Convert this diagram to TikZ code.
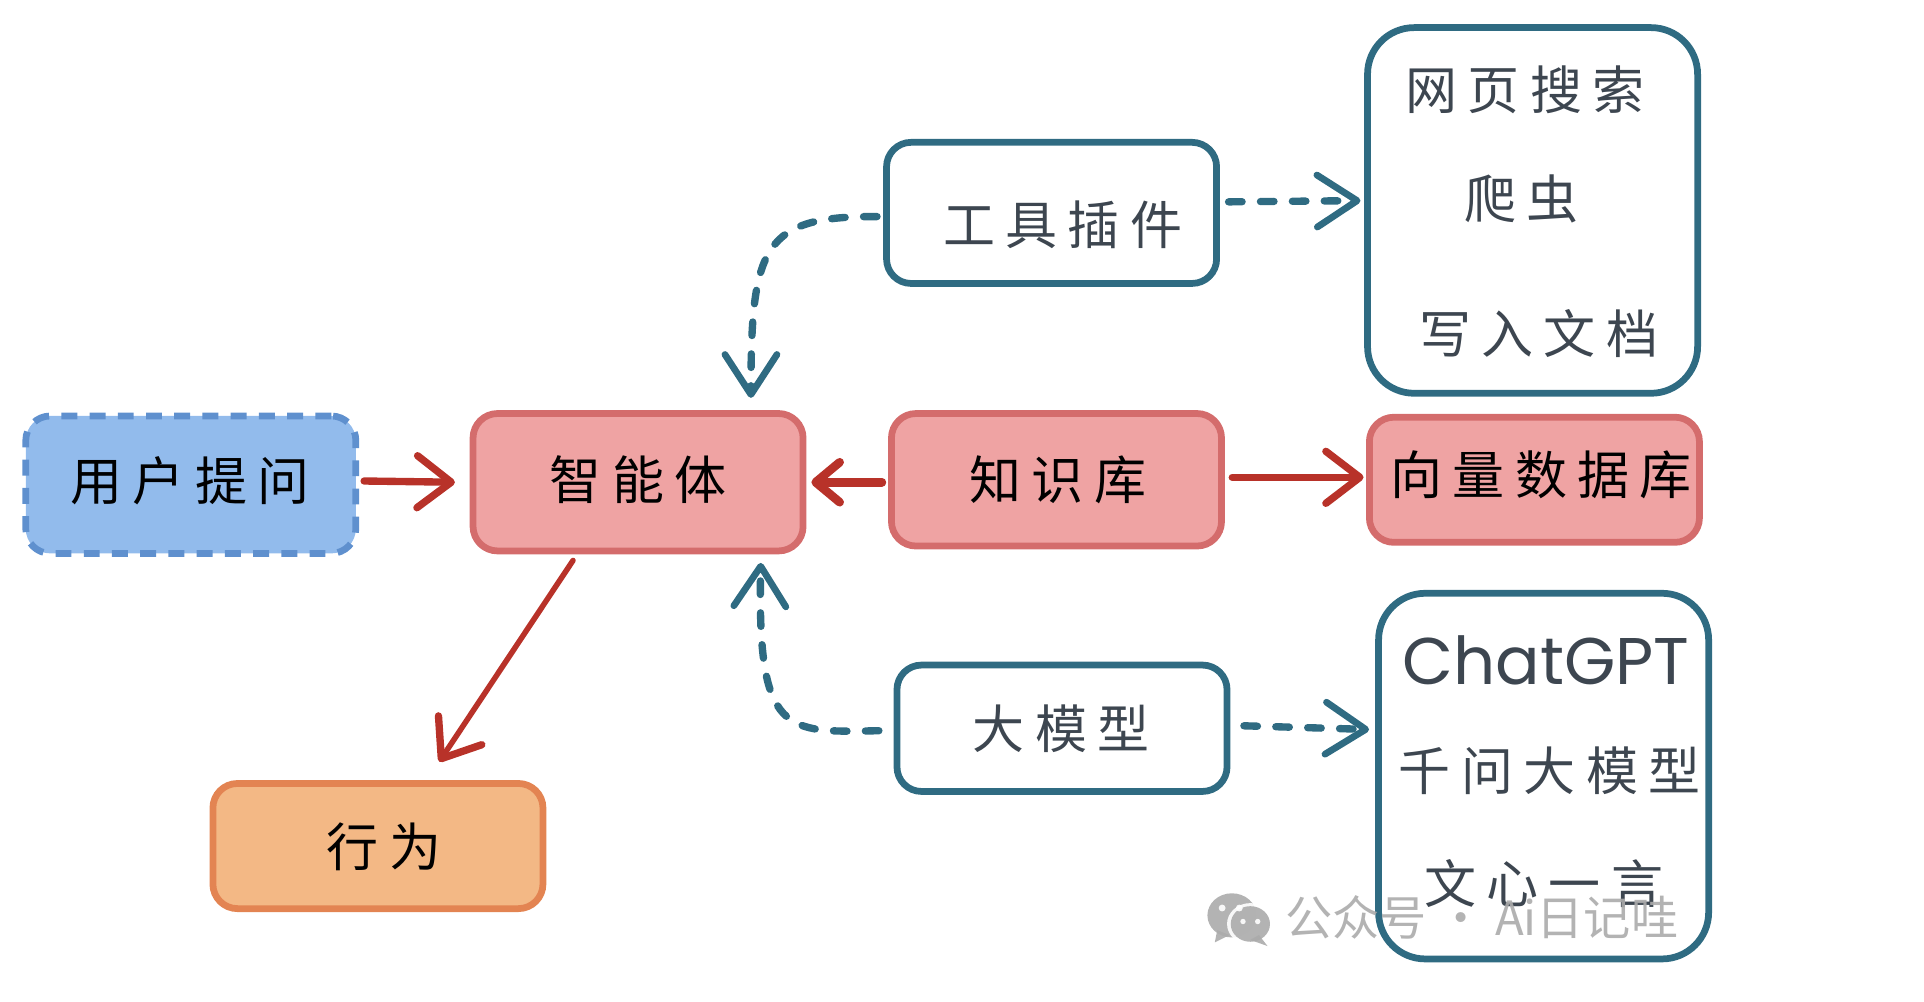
\documentclass[tikz,border=0pt]{standalone}
\usepackage{fontspec}
\usetikzlibrary{arrows.meta}
\newfontfamily\cjk[LetterSpace=20]{Noto Sans CJK SC}
\newfontfamily\cjkplain{Noto Sans CJK SC}
\newfontfamily\latinhand{Poppins}
\def\u{0.6135pt}
\definecolor{teal}{HTML}{2F6B82}
\definecolor{arrowred}{HTML}{B83229}
\definecolor{pinkfill}{HTML}{EFA3A3}
\definecolor{pinkline}{HTML}{D46C6C}
\definecolor{bluefill}{HTML}{92BBEC}
\definecolor{blueline}{HTML}{5F90CE}
\definecolor{orangefill}{HTML}{F3B885}
\definecolor{orangeline}{HTML}{E38452}
\definecolor{inkgray}{HTML}{3D4650}
\definecolor{markgray}{HTML}{ABABAB}
\tikzset{
  box/.style={draw,rectangle,rounded corners=20*\u,line width=5.5*\u,inner sep=0pt,minimum width=269*\u,font=\cjk\fontsize{26pt}{30pt}\selectfont},
  redbox/.style={box,fill=pinkfill,draw=pinkline},
  bluebox/.style={box,fill=bluefill,draw=blueline,dash pattern=on 13*\u off 10*\u},
  orangebox/.style={box,fill=orangefill,draw=orangeline},
  tealbox/.style={box,draw=teal,text=inkgray},
  listbox/.style={tealbox,rounded corners=38*\u,minimum height=298*\u},
  boxtext/.style={inner sep=0pt,font=\cjk\fontsize{26pt}{30pt}\selectfont},
  itemtext/.style={boxtext,text=inkgray},
  solidflow/.style={draw=arrowred,line width=6*\u,line cap=round,-{Straight Barb[round,length=17pt,width=26pt,line width=6*\u]}},
  shortflow/.style={draw=arrowred,line width=7*\u,line cap=round,-{Straight Barb[round,length=12pt,width=20pt,line width=7*\u]}},
  dashflow/.style={draw=teal,line width=6*\u,line cap=round,dash pattern=on 11*\u off 15*\u,-{Straight Barb[round,length=20pt,width=26pt,line width=5.5*\u]}},
  marktext/.style={inner sep=0pt,text=markgray,opacity=0.9,font=\cjkplain\fontsize{23.6pt}{27pt}\selectfont}
}
\begin{document}
\begin{tikzpicture}[x=\u,y=-\u]
\useasboundingbox (0,0) rectangle (1568,815.8);
% main boxes
\node[bluebox,minimum height=112*\u] (user) at (155.5,395) {};
\node[redbox,minimum height=112*\u] (agent) at (520,393) {};
\node[orangebox,minimum height=102*\u] (action) at (308,689.5) {};
\node[tealbox,minimum height=115*\u] (tool) at (857,173.5) {};
\node[redbox,minimum height=108*\u] (kb) at (861,391) {};
\node[tealbox,minimum height=103*\u] (model) at (865.5,593.5) {};
\node[redbox,minimum height=102*\u] (vector) at (1250.5,391) {};
\node[listbox] (web) at (1249,171.5) {};
\node[listbox] (llm) at (1258,632.5) {};
% box texts
\node[boxtext] (tuser) at (155,392) {用户提问};
\node[boxtext] (tagent) at (520,391) {智能体};
\node[boxtext] (taction) at (313,690) {行为};
\node[boxtext,text=inkgray] (ttool) at (866,183) {工具插件};
\node[boxtext] (tkb) at (862,391) {知识库};
\node[boxtext,text=inkgray] (tmodel) at (865,594) {大模型};
\node[boxtext] (tvector) at (1256,387) {向量数据库};
\node[itemtext] (t1) at (1243,73) {网页搜索};
\node[itemtext] (t2) at (1240,162) {爬虫};
\node[itemtext] (t3) at (1254,272) {写入文档};
\node[inner sep=0pt,text=inkgray,font=\latinhand\fontsize{33pt}{38pt}\selectfont] (t4) at (1260,538) {ChatGPT};
\node[itemtext] (t5) at (1263,628) {千问大模型};
\node[itemtext] (t6) at (1258,720) {文心一言};
% connectors
\draw[solidflow] ([xshift=4*\u,yshift=3*\u]user.east) -- ([xshift=-12*\u]agent.west);
\draw[shortflow] ([xshift=-5*\u,yshift=-2*\u]kb.west) -- ([xshift=4*\u]agent.east);
\draw[solidflow] ([xshift=6*\u,yshift=2*\u]kb.east) -- ([yshift=2*\u,xshift=-2*\u]vector.west);
\draw[solidflow,line width=4.5*\u] ([xshift=-53*\u,yshift=-5*\u]agent.south) -- ([xshift=50*\u,yshift=15*\u]action.north);
\draw[dashflow] ([xshift=-5*\u,yshift=-3*\u]tool.west) .. controls (622,176) and (612,200) .. ([xshift=92*\u,yshift=10*\u]agent.north);
\draw[dashflow] ([xshift=-12*\u,yshift=-2*\u]model.west) .. controls (640,597) and (617,600) .. ([xshift=100*\u,yshift=-7*\u]agent.south);
\draw[dashflow] ([xshift=7*\u,yshift=9*\u]tool.east) -- ([xshift=-3*\u,yshift=8*\u]web.west);
\draw[dashflow] ([xshift=11*\u,yshift=2*\u]model.east) -- ([xshift=-5*\u,yshift=38*\u]llm.west);
% watermark
\begin{scope}[opacity=0.9]
\fill[markgray] (1004,746) ellipse [x radius=20,y radius=18];
\fill[markgray] (992,758) -- (990,768) -- (1002,762) -- cycle;
\fill[white] (1019,753) ellipse [x radius=19,y radius=17];
\fill[markgray] (1019,753) ellipse [x radius=16,y radius=14.5];
\fill[markgray] (1026,762) -- (1033,771) -- (1019,766) -- cycle;
\fill[white] (996,740) circle (2.8) (1010,740) circle (2.8) (1013,751) circle (2.2) (1025,751) circle (2.2);
\end{scope}
\node[marktext,anchor=west] (mark) at (1047,748) {公众号 · Ai日记哇};
\end{tikzpicture}
\end{document}
